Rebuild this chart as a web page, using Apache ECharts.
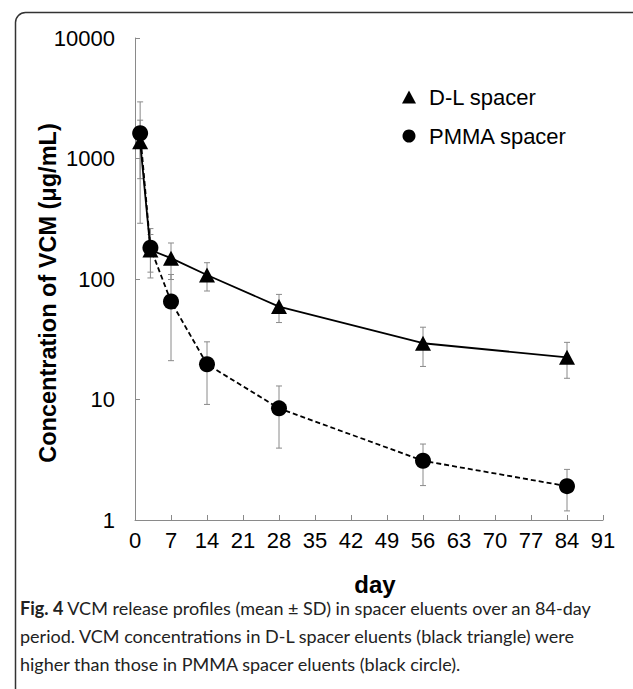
<!DOCTYPE html>
<html><head><meta charset="utf-8">
<script src="https://cdn.jsdelivr.net/npm/echarts@6/dist/echarts.min.js"></script>
<style>html,body{margin:0;padding:0;background:#fff;}#c{width:633px;height:689px;}</style>
</head><body><div id="c"></div>
<script>
var days = [1, 3, 7, 14, 28, 56, 84];
var dlMean = [1380, 174, 149, 108, 59, 29.3, 22.4];
var dlSD = [700, 60, 50, 28.5, 15.5, 10.5, 7.4];
var pmmaMean = [1620, 182, 65, 19.6, 8.45, 3.1, 1.91];
var pmmaSD = [1330, 80, 44, 10.5, 4.5, 1.17, 0.72];
var xTicks = [0, 7, 14, 21, 28, 35, 42, 49, 56, 63, 70, 77, 84, 91];
var yTicks = [1, 10, 100, 1000, 10000];
var seriesNames = ['D-L spacer', 'PMMA spacer'];
var captionBold = 'Fig. 4';
var captionLines = [
  ' VCM release profiles (mean \u00b1 SD) in spacer eluents over an 84-day',
  'period. VCM concentrations in D-L spacer eluents (black triangle) were',
  'higher than those in PMMA spacer eluents (black circle).'
];

function pairs(m) { return days.map(function (d, i) { return [d, m[i]]; }); }
function bars(m, s) { return days.map(function (d, i) { return [d, m[i] - s[i], m[i] + s[i]]; }); }
function errRender(params, api) {
  var x = api.value(0), lo = api.value(1), hi = api.value(2);
  var p1 = api.coord([x, hi]), p2 = api.coord([x, lo]);
  var w = 3;
  var st = { stroke: '#8a8a8a', lineWidth: 1 };
  return { type: 'group', children: [
    { type: 'line', shape: { x1: p1[0], y1: p1[1], x2: p2[0], y2: p2[1] }, style: st },
    { type: 'line', shape: { x1: p1[0] - w, y1: p1[1], x2: p1[0] + w, y2: p1[1] }, style: st },
    { type: 'line', shape: { x1: p2[0] - w, y1: p2[1], x2: p2[0] + w, y2: p2[1] }, style: st }
  ]};
}

var chart = echarts.init(document.getElementById('c'), null, { renderer: 'svg' });
var axisFont = 'Liberation Sans, Arial, Helvetica, sans-serif';
var capFont = 'Lato, sans-serif';
chart.setOption({
  animation: false,
  backgroundColor: '#fff',
  grid: { left: 135, right: 30, top: 38, bottom: 169, containLabel: false },
  xAxis: {
    type: 'value', min: 0, max: 91, interval: 7,
    axisLine: { lineStyle: { color: '#8a8a8a', width: 1 } },
    axisTick: { inside: true, length: 5, lineStyle: { color: '#8a8a8a' } },
    axisLabel: { fontSize: 22, color: '#000', fontFamily: axisFont, margin: 9,
      formatter: function (v) { return xTicks.indexOf(v) >= 0 ? String(v) : ''; } },
    splitLine: { show: false }
  },
  yAxis: {
    type: 'log', logBase: 10, min: 1, max: 10000,
    axisLine: { show: true, lineStyle: { color: '#8a8a8a', width: 1 } },
    axisTick: { show: true, inside: true, length: 5, lineStyle: { color: '#8a8a8a' } },
    minorTick: { show: false },
    axisLabel: { fontSize: 22, color: '#000', fontFamily: axisFont, margin: 20,
      formatter: function (v) { var r = Math.round(v); return yTicks.indexOf(r) >= 0 ? String(r) : ''; } },
    splitLine: { show: false }
  },
  legend: {
    orient: 'vertical', left: 397, top: 81, itemGap: 17,
    itemWidth: 14, itemHeight: 13,
    textStyle: { fontSize: 22, color: '#000', fontFamily: axisFont, padding: [0, 0, 0, 8] },
    data: [{ name: seriesNames[0], icon: 'triangle' }, { name: seriesNames[1], icon: 'circle' }]
  },
  graphic: [
    { type: 'rect', left: 13, top: 10, z: -10, silent: true,
      shape: { width: 630, height: 720, r: 10 },
      style: { fill: 'none', stroke: '#333', lineWidth: 1.5 } },
    { type: 'text', x: 48, y: 293, rotation: Math.PI / 2,
      style: { text: 'Concentration of VCM (\u03bcg/mL)', font: 'bold 23.5px Liberation Sans, Arial, sans-serif',
        fill: '#000', textAlign: 'center', textVerticalAlign: 'middle' } },
    { type: 'text', x: 375, y: 584,
      style: { text: 'day', font: 'bold 24px Liberation Sans, Arial, sans-serif',
        fill: '#000', textAlign: 'center', textVerticalAlign: 'middle' } },
    { type: 'text', x: 20, y: 608,
      style: { text: '{b|' + captionBold + '}{r|' + captionLines[0] + '}',
        textVerticalAlign: 'middle',
        rich: { b: { font: 'bold 18px ' + capFont, fill: '#222' },
                r: { font: '18px ' + capFont, fill: '#222' } } } },
    { type: 'text', x: 20, y: 636,
      style: { text: captionLines[1], font: '18px ' + capFont, fill: '#222', textVerticalAlign: 'middle' } },
    { type: 'text', x: 20, y: 664,
      style: { text: captionLines[2], font: '18px ' + capFont, fill: '#222', textVerticalAlign: 'middle' } }
  ],
  series: [
    { type: 'custom', name: 'dlErr', renderItem: errRender, data: bars(dlMean, dlSD), z: 1, silent: true },
    { type: 'custom', name: 'pmmaErr', renderItem: errRender, data: bars(pmmaMean, pmmaSD), z: 1, silent: true },
    { type: 'line', name: seriesNames[0], data: pairs(dlMean), symbol: 'triangle', symbolSize: [16, 15],
      itemStyle: { color: '#000' }, lineStyle: { color: '#000', width: 1.8, type: 'solid' }, z: 3 },
    { type: 'line', name: seriesNames[1], data: pairs(pmmaMean), symbol: 'circle', symbolSize: 16,
      itemStyle: { color: '#000' }, lineStyle: { color: '#000', width: 1.8, type: [5, 3] }, z: 3 }
  ]
});
</script></body></html>
